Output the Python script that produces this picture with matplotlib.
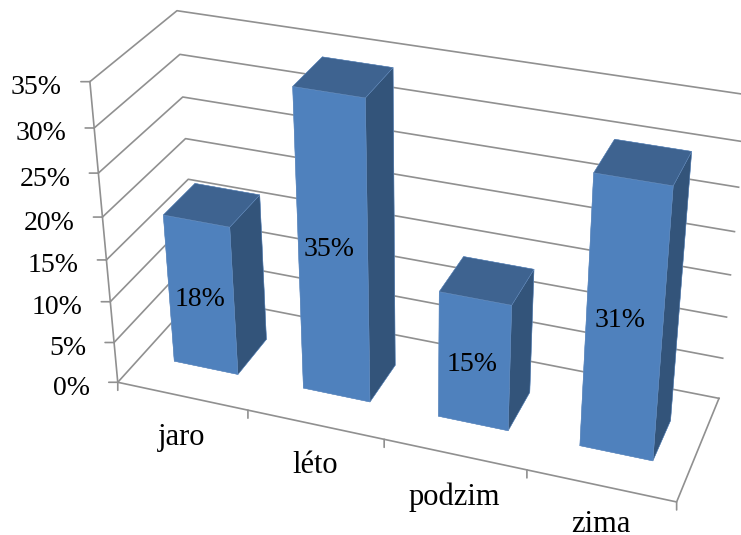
import numpy as np
from matplotlib import pyplot as plt
from mpl_toolkits.mplot3d import proj3d

# data
categories = ["jaro", "léto", "podzim", "zima"]
values = [0.18, 0.35, 0.15, 0.31]
value_labels = ["18%", "35%", "15%", "31%"]
z_ticks = [0, 0.05, 0.10, 0.15, 0.20, 0.25, 0.30, 0.35]
z_tick_labels = ["0%", "5%", "10%", "15%", "20%", "25%", "30%", "35%"]

W, H = 741, 535
GRID = "#909090"
FACE = "#4f81bd"
TOP = "#3e6390"
SIDE = "#33547a"
FONT = "Liberation Serif"
LINE = 1.2

# camera fitted by hand against the picture
GAP = 0.2507
Y0, Y1 = 0.3037, 0.6973

fig = plt.figure(figsize=(W / 100, H / 100), dpi=100)
S = 697.0
ax = fig.add_axes([58.34 / W, -68.88 / H, S / W, S / H], projection="3d", computed_zorder=False)
ax.set_xlim(0, 4, view_margin=0)
ax.set_ylim(0, 1, view_margin=0)
ax.set_zlim(0, 0.35, view_margin=0)
ax.view_init(29.592, -69.816, 0.042)
ax.set_proj_type("persp", focal_length=float(np.exp(-0.67385)))
ax.set_box_aspect((np.exp(0.54859), np.exp(-0.61332), 1))
ax.set_axis_off()
ax.patch.set_alpha(0)


def to_2d(x, y, z):
    X, Y, _ = proj3d.proj_transform(x, y, z, ax.get_proj())
    return float(X), float(Y)


def tick(x, y, z, dx, dy):
    ax.annotate("", xy=to_2d(x, y, z), xytext=(dx, dy), textcoords="offset pixels",
                arrowprops=dict(arrowstyle="-", color=GRID, lw=LINE, shrinkA=0, shrinkB=0),
                zorder=1)


# walls and floor
for z in z_ticks:
    ax.plot([0, 0, 4], [0, 1, 1], [z, z, z], color=GRID, lw=LINE, zorder=1)
    tick(0, 0, z, -9, 0)
ax.plot([0, 0], [0, 0], [0, 0.35], color=GRID, lw=LINE, zorder=1)
ax.plot([0, 4, 4], [0, 0, 1], [0, 0, 0], color=GRID, lw=LINE, zorder=1)
for i in range(5):
    tick(i, 0, 0, 0, -8)

# bars
face_colors = [TOP, TOP, FACE, SIDE, SIDE, SIDE]
for i, v in enumerate(values):
    ax.bar3d(i + GAP, Y0, 0, 1 - 2 * GAP, Y1 - Y0, v, color=face_colors, shade=False,
             edgecolor="#6f97c9", linewidth=0.3, zorder=2 + i)

# text
for z, label in zip(z_ticks, z_tick_labels):
    ax.annotate(label, xy=to_2d(0, 0, z), xytext=(-28, -6), textcoords="offset pixels",
                ha="right", va="center", family=FONT, fontsize=20, color="black", zorder=10)
for i, label in enumerate(categories):
    offset = [-49, -48, -51, -46][i]
    ax.annotate(label, xy=to_2d(i + 0.5, 0, 0), xytext=(0, offset), textcoords="offset pixels",
                ha="center", va="baseline", family=FONT, fontsize=22, color="black", zorder=10)
for i, (v, label) in enumerate(zip(values, value_labels)):
    dx = [-1, -4, -2, -4][i]
    dy = [-3, 1, -2, 1][i]
    ax.annotate(label, xy=to_2d(i + 0.5, Y0, v / 2), xytext=(dx, dy), textcoords="offset pixels",
                ha="center", va="center", family=FONT, fontsize=20, color="black", zorder=10)

fig.savefig("out.png", dpi=100)
